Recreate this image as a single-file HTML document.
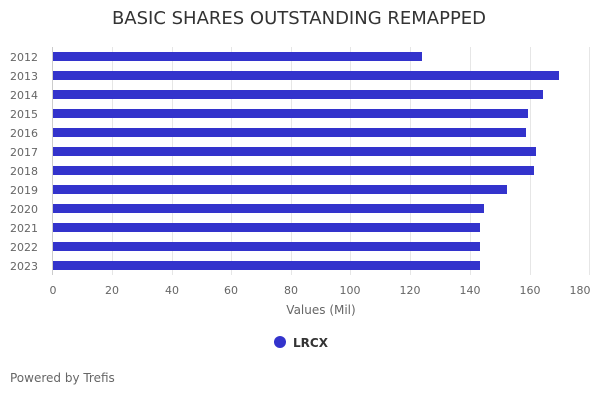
<!DOCTYPE html>
<html><head><meta charset="utf-8"><style>
body{margin:0;background:#fff;font-family:"Liberation Sans","DejaVu Sans",sans-serif;}
</style></head><body>
<svg width="600" height="400" xmlns="http://www.w3.org/2000/svg" font-family="DejaVu Sans, Liberation Sans, sans-serif">
<rect width="600" height="400" fill="#fff"/>
<text x="299" y="24" text-anchor="middle" font-size="18" fill="#333">BASIC SHARES OUTSTANDING REMAPPED</text>
<g stroke="#e6e6e6" stroke-width="1">
<line x1="112.5" y1="47" x2="112.5" y2="275"/><line x1="172.5" y1="47" x2="172.5" y2="275"/>
<line x1="231.5" y1="47" x2="231.5" y2="275"/><line x1="291.5" y1="47" x2="291.5" y2="275"/>
<line x1="350.5" y1="47" x2="350.5" y2="275"/><line x1="410.5" y1="47" x2="410.5" y2="275"/>
<line x1="470.5" y1="47" x2="470.5" y2="275"/><line x1="530.5" y1="47" x2="530.5" y2="275"/>
<line x1="589.5" y1="47" x2="589.5" y2="275"/>
</g>
<line x1="52.5" y1="47" x2="52.5" y2="275" stroke="#ccc"/>
<g fill="#3333cc">
<rect x="53" y="52" width="369" height="9"/>
<rect x="53" y="71" width="506" height="9"/>
<rect x="53" y="90" width="490" height="9"/>
<rect x="53" y="109" width="475" height="9"/>
<rect x="53" y="128" width="473" height="9"/>
<rect x="53" y="147" width="483" height="9"/>
<rect x="53" y="166" width="481" height="9"/>
<rect x="53" y="185" width="454" height="9"/>
<rect x="53" y="204" width="431" height="9"/>
<rect x="53" y="223" width="427" height="9"/>
<rect x="53" y="242" width="427" height="9"/>
<rect x="53" y="261" width="427" height="9"/>
</g>
<g font-size="11" fill="#666" text-anchor="end">
<text x="38" y="61">2012</text><text x="38" y="80">2013</text><text x="38" y="99">2014</text>
<text x="38" y="118">2015</text><text x="38" y="137">2016</text><text x="38" y="156">2017</text>
<text x="38" y="175">2018</text><text x="38" y="194">2019</text><text x="38" y="213">2020</text>
<text x="38" y="232">2021</text><text x="38" y="251">2022</text><text x="38" y="270">2023</text>
</g>
<g font-size="11" fill="#666" text-anchor="middle">
<text x="53" y="294">0</text><text x="112" y="294">20</text><text x="172" y="294">40</text>
<text x="231" y="294">60</text><text x="291" y="294">80</text><text x="350" y="294">100</text>
<text x="410" y="294">120</text><text x="470" y="294">140</text><text x="530" y="294">160</text>
<text x="580" y="294">180</text>
</g>
<text x="321" y="314" text-anchor="middle" font-size="12" fill="#666">Values (Mil)</text>
<circle cx="280" cy="342" r="6" fill="#3333cc"/>
<text x="293" y="347" font-size="12" font-weight="bold" fill="#333">LRCX</text>
<text x="10" y="382" font-size="12" fill="#666">Powered by Trefis</text>
</svg>
</body></html>
